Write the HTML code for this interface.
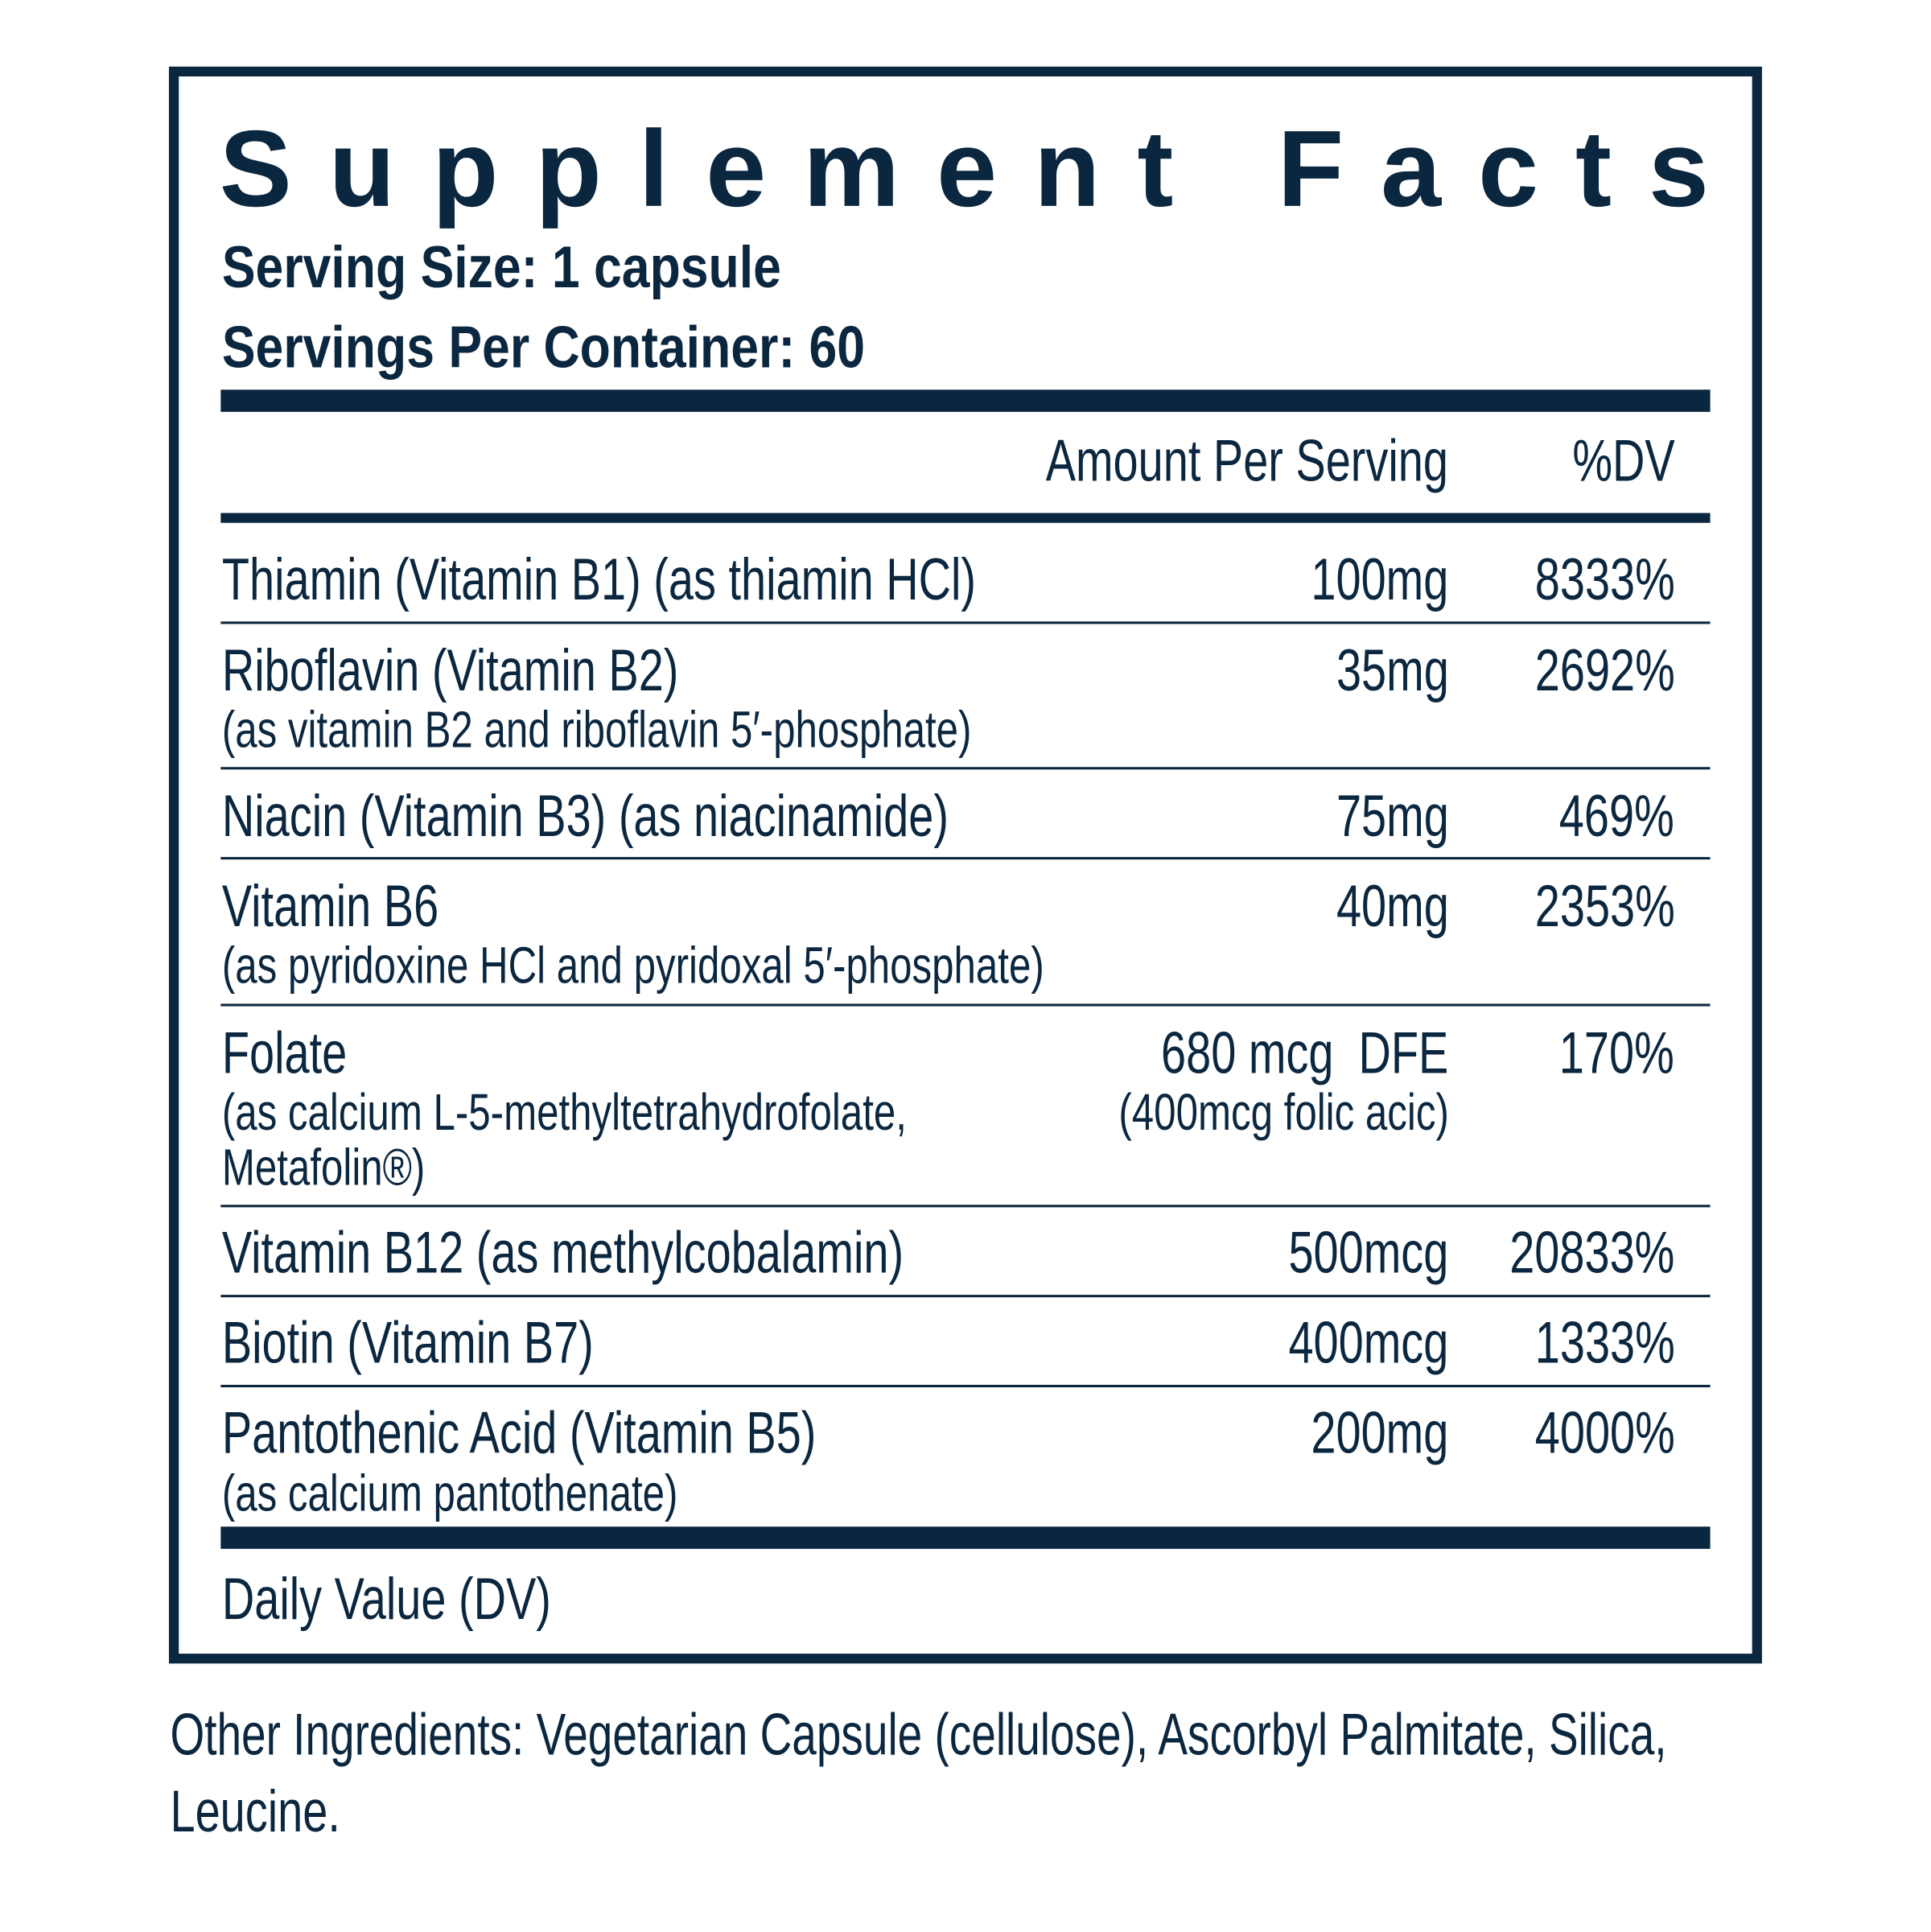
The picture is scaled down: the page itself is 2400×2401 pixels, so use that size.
<!DOCTYPE html>
<html><head><meta charset="utf-8"><style>
html,body{margin:0;padding:0;background:#fff;}
#wrap{position:absolute;left:0;top:0;width:1567px;height:1567px;transform:scale(1.5325);transform-origin:0 0;}
.t{position:absolute;white-space:nowrap;color:#0b2740;font-family:"Liberation Sans",sans-serif;line-height:1;}
.L{transform:scaleX(0.76);transform-origin:0 0;}
.S{transform:scaleX(0.765);transform-origin:0 0;}
.SR{transform:scaleX(0.765);transform-origin:100% 0;text-align:right;}
.R{transform:scaleX(0.76);transform-origin:100% 0;text-align:right;}
.B{font-weight:bold;transform:scaleX(0.85);transform-origin:0 0;}
.bar{position:absolute;background:#0b2740;}
</style></head><body><div id="wrap">
<div style="position:absolute;left:137px;top:54px;width:1276px;height:1279px;border:8px solid #0b2740;"></div>
<div class="t" style="left:178px;top:93px;font-size:88px;font-weight:bold;letter-spacing:30px;">Supplement Facts</div>
<div class="t B" style="left:180px;top:194px;font-size:48px;">Serving Size: 1 capsule</div>
<div class="t B" style="left:180px;top:259px;font-size:48px;">Servings Per Container: 60</div>
<div class="bar" style="left:179px;top:316px;width:1208px;height:18px;"></div>
<div class="t R" style="right:392px;top:351px;font-size:48px;">Amount Per Serving</div>
<div class="t R" style="right:209px;top:351px;font-size:48px;">%DV</div>
<div class="bar" style="left:179px;top:416px;width:1208px;height:8px;"></div>

<div class="t L" style="left:180px;top:447px;font-size:48px;">Thiamin (Vitamin B1) (as thiamin HCl)</div>
<div class="t R" style="right:392px;top:447px;font-size:48px;">100mg</div>
<div class="t R" style="right:209px;top:447px;font-size:48px;">8333%</div>
<div class="bar" style="left:179px;top:504px;width:1208px;height:2px;"></div>

<div class="t L" style="left:180px;top:521px;font-size:48px;">Riboflavin (Vitamin B2)</div>
<div class="t S" style="left:180px;top:571px;font-size:42px;">(as vitamin B2 and riboflavin 5′-phosphate)</div>
<div class="t R" style="right:392px;top:521px;font-size:48px;">35mg</div>
<div class="t R" style="right:209px;top:521px;font-size:48px;">2692%</div>
<div class="bar" style="left:179px;top:622px;width:1208px;height:2px;"></div>

<div class="t L" style="left:180px;top:639px;font-size:48px;">Niacin (Vitamin B3) (as niacinamide)</div>
<div class="t R" style="right:392px;top:639px;font-size:48px;">75mg</div>
<div class="t R" style="right:209px;top:639px;font-size:48px;">469%</div>
<div class="bar" style="left:179px;top:695px;width:1208px;height:2px;"></div>

<div class="t L" style="left:180px;top:712px;font-size:48px;">Vitamin B6</div>
<div class="t S" style="left:180px;top:762px;font-size:42px;">(as pyridoxine HCl and pyridoxal 5′-phosphate)</div>
<div class="t R" style="right:392px;top:712px;font-size:48px;">40mg</div>
<div class="t R" style="right:209px;top:712px;font-size:48px;">2353%</div>
<div class="bar" style="left:179px;top:814px;width:1208px;height:2px;"></div>

<div class="t L" style="left:180px;top:831px;font-size:48px;">Folate</div>
<div class="t S" style="left:180px;top:881px;font-size:42px;">(as calcium L-5-methyltetrahydrofolate,</div>
<div class="t S" style="left:180px;top:926px;font-size:42px;">Metafolin®)</div>
<div class="t R" style="right:392px;top:831px;font-size:48px;white-space:pre;">680 mcg  DFE</div>
<div class="t SR" style="right:392px;top:881px;font-size:42px;">(400mcg folic acic)</div>
<div class="t R" style="right:209px;top:831px;font-size:48px;">170%</div>
<div class="bar" style="left:179px;top:977px;width:1208px;height:2px;"></div>

<div class="t L" style="left:180px;top:993px;font-size:48px;">Vitamin B12 (as methylcobalamin)</div>
<div class="t R" style="right:392px;top:993px;font-size:48px;">500mcg</div>
<div class="t R" style="right:209px;top:993px;font-size:48px;">20833%</div>
<div class="bar" style="left:179px;top:1050px;width:1208px;height:2px;"></div>

<div class="t L" style="left:180px;top:1066px;font-size:48px;">Biotin (Vitamin B7)</div>
<div class="t R" style="right:392px;top:1066px;font-size:48px;">400mcg</div>
<div class="t R" style="right:209px;top:1066px;font-size:48px;">1333%</div>
<div class="bar" style="left:179px;top:1123px;width:1208px;height:2px;"></div>

<div class="t L" style="left:180px;top:1139px;font-size:48px;">Pantothenic Acid (Vitamin B5)</div>
<div class="t S" style="left:180px;top:1190px;font-size:42px;">(as calcium pantothenate)</div>
<div class="t R" style="right:392px;top:1139px;font-size:48px;">200mg</div>
<div class="t R" style="right:209px;top:1139px;font-size:48px;">4000%</div>
<div class="bar" style="left:179px;top:1238px;width:1208px;height:18px;"></div>

<div class="t L" style="left:180px;top:1274px;font-size:48px;">Daily Value (DV)</div>

<div class="t" style="left:138px;top:1384px;font-size:48px;transform:scaleX(0.747);transform-origin:0 0;">Other Ingredients: Vegetarian Capsule (cellulose), Ascorbyl Palmitate, Silica,</div>
<div class="t L" style="left:138px;top:1446px;font-size:48px;">Leucine.</div>
</div></body></html>
